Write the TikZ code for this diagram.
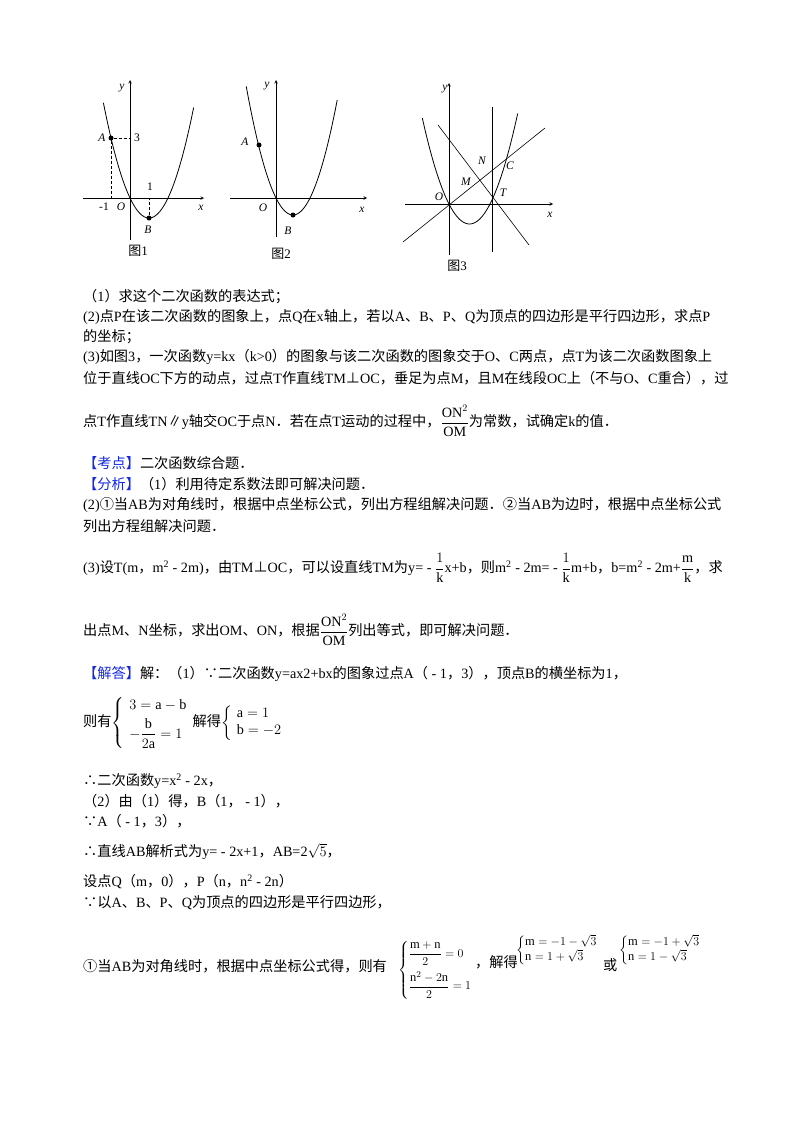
\documentclass[tikz,border=0pt]{standalone}
\usepackage{amsmath}
\usepackage{fontspec}
\setmainfont{Liberation Serif}
\newfontfamily\cjk{Noto Sans CJK SC}
\newfontfamily\latn{Liberation Serif}
\newXeTeXintercharclass\cjkcls
\count255="4E00 \loop \XeTeXcharclass\count255=\cjkcls \advance\count255 1 \ifnum\count255<"A000 \repeat
\count255="FF00 \loop \XeTeXcharclass\count255=\cjkcls \advance\count255 1 \ifnum\count255<"FFF0 \repeat
\count255="3000 \loop \XeTeXcharclass\count255=\cjkcls \advance\count255 1 \ifnum\count255<"3040 \repeat
\count255="2460 \loop \XeTeXcharclass\count255=\cjkcls \advance\count255 1 \ifnum\count255<"2474 \repeat
\XeTeXcharclass"2234=\cjkcls \XeTeXcharclass"2235=\cjkcls \XeTeXcharclass"2225=\cjkcls \XeTeXcharclass"22A5=\cjkcls
\XeTeXinterchartoks 0 \cjkcls = {\cjk}
\XeTeXinterchartoks 4095 \cjkcls = {\cjk}
\XeTeXinterchartoks \cjkcls 0 = {\latn}
\XeTeXinterchartoks \cjkcls 4095 = {\latn}
\XeTeXinterchartokenstate=1
\definecolor{kd}{RGB}{20,40,230}
\begin{document}
\begin{tikzpicture}[x=1pt,y=-1pt,
  txt/.style={anchor=west,inner sep=0pt,font=\fontsize{14.2}{17}\selectfont},
  sys/.style={anchor=west,inner sep=0pt,font=\fontsize{12.5}{15}\selectfont},
  lab/.style={inner sep=0pt,font=\fontsize{11.5}{12}\selectfont\itshape},
  figcap/.style={inner sep=0pt,font=\fontsize{13}{14}\selectfont},
  num/.style={inner sep=0pt,font=\fontsize{11.5}{12}\selectfont},
  ax/.style={->,>=stealth,line width=0.6pt},
  crv/.style={line width=0.8pt},
  dot/.style={circle,fill,inner sep=0pt,minimum size=5pt}]
\useasboundingbox (0,0) rectangle (800,1132);
% ---- Figure 1
\draw[ax] (83,198) -- (204,198);
\draw[ax] (130,240) -- (130,80);
\draw[crv,domain=-1.4:3.35,samples=60] plot ({130+19*\x},{198-20*(\x*\x-2*\x)});
\node[dot] (A1) at (111,138) {};
\node[dot] (B1) at (149,218) {};
\coordinate (A1x) at (111,198);
\coordinate (A1y) at (130,138);
\coordinate (B1x) at (149,198);
\draw[densely dashed] (A1) -- (A1x);
\draw[densely dashed] (A1) -- (A1y);
\draw[densely dashed] (B1) -- (B1x);
\node[lab] (y1) at (122,88) {y};
\node[lab] (a1) at (102,138) {A};
\node[num] (t3) at (137,138) {3};
\node[num] (m1) at (104,207) {-1};
\node[lab] (o1) at (121,207) {O};
\node[num] (n1) at (150,187) {1};
\node[lab] (b1) at (148,230) {B};
\node[lab] (x1) at (201,208) {x};
\node[figcap] (f1) at (138,251) {图1};
% ---- Figure 2
\draw[ax] (230,198) -- (367,198);
\draw[ax] (276,237) -- (276,80);
\draw[crv,domain=-1.75:3.6,samples=60] plot ({276+17*\x},{198-17*(\x*\x-2*\x)});
\node[dot] (A2) at (259,145) {};
\node[dot] (B2) at (293,215) {};
\node[lab] (y2) at (267,86) {y};
\node[lab] (a2) at (245,142) {A};
\node[lab] (o2) at (263,208) {O};
\node[lab] (b2) at (288,231) {B};
\node[lab] (x2) at (362,210) {x};
\node[figcap] (f2) at (281,254) {图2};
% ---- Figure 3
\draw[ax] (405,204) -- (553,204);
\draw[ax] (449,255) -- (449,83);
\draw[crv,domain=-1.3:3.35,samples=60] plot ({449+20.5*\x},{204-20*(\x*\x-2*\x)});
\coordinate (L1a) at (403,242);
\coordinate (L1b) at (545,128);
\coordinate (L2a) at (438,125);
\coordinate (L2b) at (529,245);
\coordinate (L3a) at (492,107);
\coordinate (L3b) at (492,252);
\draw[line width=0.6pt] (L1a) -- (L1b);
\draw[line width=0.6pt] (L2a) -- (L2b);
\draw[line width=0.6pt] (L3a) -- (L3b);
\node[lab] (y3) at (445,89) {y};
\node[lab] (N3) at (482,161) {N};
\node[lab] (C3) at (510,166) {C};
\node[lab] (M3) at (466,182) {M};
\node[lab] (T3) at (503,193) {T};
\node[lab] (O3) at (439,197) {O};
\node[lab] (x3) at (550,215) {x};
\node[figcap] (f3) at (457,266) {图3};
% ---- Text
\node[txt] (l1) at (83,297) {（1）求这个二次函数的表达式；};
\node[txt] (l2) at (83,317) {(2)点P在该二次函数的图象上，点Q在x轴上，若以A、B、P、Q为顶点的四边形是平行四边形，求点P};
\node[txt] (l3) at (83,337) {的坐标；};
\node[txt] (l4) at (83,357) {(3)如图3，一次函数y=kx（k>0）的图象与该二次函数的图象交于O、C两点，点T为该二次函数图象上};
\node[txt] (l5) at (83,378) {位于直线OC下方的动点，过点T作直线TM⊥OC，垂足为点M，且M在线段OC上（不与O、C重合），过};
\node[txt] (l6) at (83,421) {点T作直线TN∥y轴交OC于点N．若在点T运动的过程中，$\dfrac{\mathrm{ON}^2}{\mathrm{OM}}$为常数，试确定k的值．};
\node[txt] (l7) at (83,463) {\textcolor{kd}{【考点】}二次函数综合题．};
\node[txt] (l8) at (83,484) {\textcolor{kd}{【分析】}（1）利用待定系数法即可解决问题．};
\node[txt] (l9) at (83,505) {(2)①当AB为对角线时，根据中点坐标公式，列出方程组解决问题．②当AB为边时，根据中点坐标公式};
\node[txt] (l10) at (83,526) {列出方程组解决问题．};
\node[txt] (l11) at (83,568) {(3)设T(m，m\textsuperscript{2} - 2m)，由TM⊥OC，可以设直线TM为y= - $\dfrac{1}{\mathrm{k}}$x+b，则m\textsuperscript{2} - 2m= - $\dfrac{1}{\mathrm{k}}$m+b，b=m\textsuperscript{2} - 2m+$\dfrac{\mathrm{m}}{\mathrm{k}}$，求};
\node[txt] (l12) at (83,630) {出点M、N坐标，求出OM、ON，根据$\dfrac{\mathrm{ON}^2}{\mathrm{OM}}$列出等式，即可解决问题．};
\node[txt] (l13) at (83,674) {\textcolor{kd}{【解答】}解：（1）∵二次函数y=ax2+bx的图象过点A（ - 1，3），顶点B的横坐标为1，};
\node[txt] (l14) at (83,723) {则有$\left\{\begin{array}{l}3=\mathrm{a}-\mathrm{b}\\[4pt] -\dfrac{\mathrm{b}}{2\mathrm{a}}=1\end{array}\right.$解得$\left\{\begin{array}{l}\mathrm{a}=1\\ \mathrm{b}=-2\end{array}\right.$};
\node[txt] (l15) at (83,781) {∴二次函数y=x\textsuperscript{2} - 2x，};
\node[txt] (l16) at (83,801) {（2）由（1）得，B（1， - 1），};
\node[txt] (l17) at (83,821) {∵A（ - 1，3），};
\node[txt] (l18) at (83,851) {∴直线AB解析式为y= - 2x+1，AB=2$\sqrt{5}$，};
\node[txt] (l19) at (83,882) {设点Q（m，0），P（n，n\textsuperscript{2} - 2n）};
\node[txt] (l20) at (83,903) {∵以A、B、P、Q为顶点的四边形是平行四边形，};
\node[txt] (l21) at (83,966) {①当AB为对角线时，根据中点坐标公式得，则有};
\node[sys] (s1) at (398,970) {$\left\{\begin{array}{@{}l}\dfrac{\mathrm{m}+\mathrm{n}}{2}=0\\[10pt] \dfrac{\mathrm{n}^2-2\mathrm{n}}{2}=1\end{array}\right.$};
\node[txt] (s1t) at (475,962) {，解得};
\node[sys] (s2) at (516,950) {$\left\{\begin{array}{@{}l}\mathrm{m}=-1-\sqrt{3}\\ \mathrm{n}=1+\sqrt{3}\end{array}\right.$};
\node[txt] (s2t) at (603,965) {或};
\node[sys] (s3) at (619,950) {$\left\{\begin{array}{@{}l}\mathrm{m}=-1+\sqrt{3}\\ \mathrm{n}=1-\sqrt{3}\end{array}\right.$};
\end{tikzpicture}
\end{document}
